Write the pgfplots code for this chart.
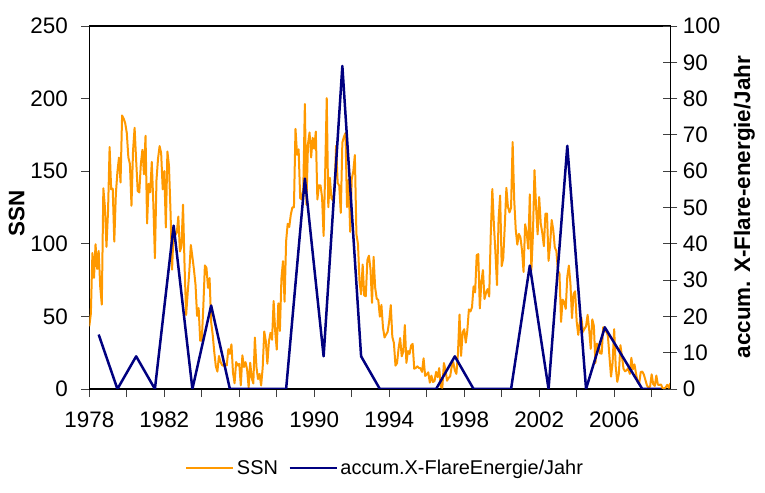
\documentclass[border=0pt]{standalone}
\usepackage{pgfplots}
\pgfplotsset{compat=1.18}
\usepackage{fontspec}
\setmainfont{Liberation Sans}
\definecolor{ssnorange}{HTML}{FF9900}
\definecolor{flarenavy}{HTML}{000080}
\begin{document}
\begin{tikzpicture}[font=\fontsize{22.5}{27}\selectfont]
\useasboundingbox (0bp,0bp) rectangle (765bp,493bp);
\pgfplotsset{
  every axis/.append style={
    scale only axis, width=581.1bp, height=363bp,
    at={(89.3bp,104bp)}, anchor=south west,
    xmin=1978, xmax=2009,
    /pgf/number format/assume math mode=true,
    /pgf/number format/1000 sep={},
    axis line style={line width=1.5bp},
    every tick/.style={black!75, line width=0.8bp},
  }
}
\begin{axis}[
  ymin=0, ymax=250, ytick={0,50,...,250},
  ytick pos=left, xtick pos=bottom,
  tick align=outside,
  xtick={1978,1982,...,2006},
  minor xtick={1980,1984,...,2008},
  major tick length=8bp, minor tick length=8bp,
  ylabel={\bfseries SSN},
  ylabel style={at={(axis description cs:-0.125,0.4835)}, anchor=center},
  yticklabel style={xshift=-10bp},
  xticklabel style={yshift=-11bp},
]
\addplot[ssnorange, line width=2bp, line join=round] table[row sep=\\, x expr=\thisrow{yr}+\thisrow{mo}/12, y=v] {
yr mo v\\
1977 12 43.2\\
1978 1 51.9\\ 1978 2 93.6\\ 1978 3 76.5\\ 1978 4 99.7\\ 1978 5 82.7\\ 1978 6 95.1\\ 1978 7 70.4\\ 1978 8 58.1\\ 1978 9 138.2\\ 1978 10 125.1\\ 1978 11 97.9\\ 1978 12 122.7\\
1979 1 166.6\\ 1979 2 137.5\\ 1979 3 138.0\\ 1979 4 101.5\\ 1979 5 134.4\\ 1979 6 149.5\\ 1979 7 159.4\\ 1979 8 142.2\\ 1979 9 188.4\\ 1979 10 186.2\\ 1979 11 183.0\\ 1979 12 176.3\\
1980 1 159.6\\ 1980 2 155.0\\ 1980 3 126.2\\ 1980 4 164.1\\ 1980 5 179.9\\ 1980 6 157.3\\ 1980 7 136.3\\ 1980 8 135.4\\ 1980 9 155.0\\ 1980 10 164.7\\ 1980 11 147.9\\ 1980 12 174.4\\
1981 1 114.0\\ 1981 2 141.3\\ 1981 3 135.5\\ 1981 4 156.4\\ 1981 5 127.5\\ 1981 6 90.0\\ 1981 7 143.8\\ 1981 8 158.7\\ 1981 9 167.3\\ 1981 10 162.4\\ 1981 11 137.5\\ 1981 12 150.1\\
1982 1 111.2\\ 1982 2 163.6\\ 1982 3 153.8\\ 1982 4 122.0\\ 1982 5 82.2\\ 1982 6 110.4\\ 1982 7 106.1\\ 1982 8 107.6\\ 1982 9 118.8\\ 1982 10 94.7\\ 1982 11 98.1\\ 1982 12 127.0\\
1983 1 84.3\\ 1983 2 51.0\\ 1983 3 66.5\\ 1983 4 80.7\\ 1983 5 99.2\\ 1983 6 91.1\\ 1983 7 82.2\\ 1983 8 71.8\\ 1983 9 50.3\\ 1983 10 55.8\\ 1983 11 33.3\\ 1983 12 33.4\\
1984 1 57.0\\ 1984 2 85.1\\ 1984 3 83.5\\ 1984 4 69.7\\ 1984 5 76.4\\ 1984 6 46.1\\ 1984 7 37.4\\ 1984 8 25.5\\ 1984 9 15.7\\ 1984 10 12.0\\ 1984 11 22.8\\ 1984 12 18.7\\
1985 1 16.5\\ 1985 2 15.9\\ 1985 3 17.2\\ 1985 4 16.2\\ 1985 5 27.5\\ 1985 6 24.2\\ 1985 7 30.7\\ 1985 8 11.1\\ 1985 9 3.9\\ 1985 10 18.6\\ 1985 11 16.2\\ 1985 12 17.3\\
1986 1 2.5\\ 1986 2 23.2\\ 1986 3 15.1\\ 1986 4 18.5\\ 1986 5 13.7\\ 1986 6 1.1\\ 1986 7 18.1\\ 1986 8 7.4\\ 1986 9 3.8\\ 1986 10 35.4\\ 1986 11 15.2\\ 1986 12 6.8\\
1987 1 10.4\\ 1987 2 2.4\\ 1987 3 14.7\\ 1987 4 39.6\\ 1987 5 33.0\\ 1987 6 17.4\\ 1987 7 33.0\\ 1987 8 38.7\\ 1987 9 33.9\\ 1987 10 60.6\\ 1987 11 39.9\\ 1987 12 27.1\\
1988 1 59.0\\ 1988 2 40.0\\ 1988 3 76.2\\ 1988 4 88.0\\ 1988 5 60.1\\ 1988 6 101.8\\ 1988 7 113.8\\ 1988 8 111.6\\ 1988 9 120.1\\ 1988 10 125.1\\ 1988 11 125.1\\ 1988 12 179.2\\
1989 1 161.3\\ 1989 2 165.1\\ 1989 3 131.4\\ 1989 4 130.6\\ 1989 5 138.5\\ 1989 6 196.2\\ 1989 7 126.9\\ 1989 8 168.9\\ 1989 9 176.7\\ 1989 10 159.4\\ 1989 11 173.0\\ 1989 12 165.5\\
1990 1 177.3\\ 1990 2 130.5\\ 1990 3 140.3\\ 1990 4 140.3\\ 1990 5 132.2\\ 1990 6 105.4\\ 1990 7 149.4\\ 1990 8 200.3\\ 1990 9 125.2\\ 1990 10 145.5\\ 1990 11 131.4\\ 1990 12 129.7\\
1991 1 136.9\\ 1991 2 167.5\\ 1991 3 141.9\\ 1991 4 140.0\\ 1991 5 121.3\\ 1991 6 169.7\\ 1991 7 173.7\\ 1991 8 176.3\\ 1991 9 125.3\\ 1991 10 144.1\\ 1991 11 108.2\\ 1991 12 144.4\\
1992 1 150.0\\ 1992 2 161.1\\ 1992 3 106.7\\ 1992 4 99.8\\ 1992 5 73.8\\ 1992 6 65.2\\ 1992 7 85.7\\ 1992 8 64.5\\ 1992 9 63.9\\ 1992 10 88.7\\ 1992 11 91.8\\ 1992 12 82.6\\
1993 1 59.3\\ 1993 2 91.0\\ 1993 3 69.8\\ 1993 4 62.2\\ 1993 5 61.3\\ 1993 6 49.8\\ 1993 7 57.9\\ 1993 8 42.4\\ 1993 9 35.5\\ 1993 10 37.5\\ 1993 11 39.4\\ 1993 12 46.9\\
1994 1 57.8\\ 1994 2 35.8\\ 1994 3 31.7\\ 1994 4 16.1\\ 1994 5 17.8\\ 1994 6 28.0\\ 1994 7 35.1\\ 1994 8 22.5\\ 1994 9 25.7\\ 1994 10 44.0\\ 1994 11 18.0\\ 1994 12 26.2\\
1995 1 24.2\\ 1995 2 29.9\\ 1995 3 31.1\\ 1995 4 14.0\\ 1995 5 14.5\\ 1995 6 15.6\\ 1995 7 14.5\\ 1995 8 14.3\\ 1995 9 11.8\\ 1995 10 21.1\\ 1995 11 9.0\\ 1995 12 10.0\\
1996 1 11.5\\ 1996 2 4.4\\ 1996 3 9.2\\ 1996 4 4.8\\ 1996 5 5.5\\ 1996 6 11.8\\ 1996 7 8.2\\ 1996 8 14.4\\ 1996 9 1.6\\ 1996 10 0.9\\ 1996 11 17.9\\ 1996 12 13.3\\
1997 1 5.7\\ 1997 2 7.6\\ 1997 3 8.7\\ 1997 4 15.5\\ 1997 5 18.5\\ 1997 6 12.7\\ 1997 7 10.4\\ 1997 8 24.4\\ 1997 9 51.3\\ 1997 10 22.8\\ 1997 11 39.0\\ 1997 12 41.2\\
1998 1 31.9\\ 1998 2 40.3\\ 1998 3 54.8\\ 1998 4 53.4\\ 1998 5 56.3\\ 1998 6 70.7\\ 1998 7 66.6\\ 1998 8 92.2\\ 1998 9 92.9\\ 1998 10 55.5\\ 1998 11 74.0\\ 1998 12 81.9\\
1999 1 62.0\\ 1999 2 66.3\\ 1999 3 68.8\\ 1999 4 63.7\\ 1999 5 106.4\\ 1999 6 137.7\\ 1999 7 113.5\\ 1999 8 93.7\\ 1999 9 71.5\\ 1999 10 116.7\\ 1999 11 133.2\\ 1999 12 84.6\\
2000 1 90.1\\ 2000 2 112.9\\ 2000 3 138.5\\ 2000 4 125.5\\ 2000 5 121.6\\ 2000 6 124.9\\ 2000 7 170.1\\ 2000 8 130.5\\ 2000 9 109.7\\ 2000 10 99.4\\ 2000 11 106.8\\ 2000 12 104.4\\
2001 1 95.6\\ 2001 2 80.6\\ 2001 3 113.5\\ 2001 4 107.7\\ 2001 5 96.6\\ 2001 6 134.0\\ 2001 7 81.8\\ 2001 8 106.4\\ 2001 9 150.7\\ 2001 10 125.5\\ 2001 11 106.5\\ 2001 12 132.2\\
2002 1 114.1\\ 2002 2 107.4\\ 2002 3 98.4\\ 2002 4 120.7\\ 2002 5 120.8\\ 2002 6 88.3\\ 2002 7 99.6\\ 2002 8 116.4\\ 2002 9 109.6\\ 2002 10 97.5\\ 2002 11 95.0\\ 2002 12 81.6\\
2003 1 79.5\\ 2003 2 46.2\\ 2003 3 61.5\\ 2003 4 60.0\\ 2003 5 55.2\\ 2003 6 77.4\\ 2003 7 85.0\\ 2003 8 72.7\\ 2003 9 48.8\\ 2003 10 65.5\\ 2003 11 67.3\\ 2003 12 46.5\\
2004 1 37.3\\ 2004 2 45.8\\ 2004 3 49.1\\ 2004 4 39.3\\ 2004 5 41.5\\ 2004 6 43.2\\ 2004 7 51.1\\ 2004 8 40.9\\ 2004 9 27.7\\ 2004 10 48.0\\ 2004 11 43.5\\ 2004 12 17.9\\
2005 1 31.3\\ 2005 2 29.2\\ 2005 3 24.5\\ 2005 4 24.4\\ 2005 5 42.6\\ 2005 6 39.6\\ 2005 7 39.9\\ 2005 8 36.4\\ 2005 9 22.1\\ 2005 10 8.5\\ 2005 11 18.0\\ 2005 12 41.2\\
2006 1 15.3\\ 2006 2 4.9\\ 2006 3 10.6\\ 2006 4 30.2\\ 2006 5 22.3\\ 2006 6 13.9\\ 2006 7 12.2\\ 2006 8 12.9\\ 2006 9 14.4\\ 2006 10 10.4\\ 2006 11 21.5\\ 2006 12 13.6\\
2007 1 16.9\\ 2007 2 10.6\\ 2007 3 4.8\\ 2007 4 3.7\\ 2007 5 11.7\\ 2007 6 12.0\\ 2007 7 10.0\\ 2007 8 6.2\\ 2007 9 2.4\\ 2007 10 0.9\\ 2007 11 1.7\\ 2007 12 10.1\\
2008 1 3.4\\ 2008 2 2.1\\ 2008 3 9.3\\ 2008 4 2.9\\ 2008 5 2.9\\ 2008 6 3.1\\ 2008 7 0.5\\ 2008 8 0.5\\ 2008 9 1.1\\ 2008 10 2.9\\ 2008 11 0.8\\ 2008 12 4.1\\
};
\end{axis}
\begin{axis}[
  axis y line*=right, axis x line=none,
  ymin=0, ymax=100, ytick={0,10,...,100},
  tick align=center, major tick length=14bp,
  yticklabel style={xshift=2bp},
  ylabel={\bfseries accum. X-Flare-energie/Jahr},
  ylabel style={at={(axis description cs:1.1275,0.501)}, anchor=center, rotate=0},
  legend columns=2,
  legend style={draw=none, fill=none, font=\fontsize{20}{24}\selectfont,
    at={(axis description cs:0.5097,-0.2176)}, anchor=center,
    nodes={inner sep=2.5bp},
    /tikz/every even column/.append style={column sep=8bp}},
  legend image code/.code={\draw[#1] (0bp,0bp) -- (47bp,0bp);},
]
\addlegendimage{ssnorange, line width=2bp}
\addlegendentry{SSN}
\addplot[flarenavy, line width=2.5bp, line join=round] coordinates {
(1978.5,15) (1979.5,0) (1980.5,9) (1981.5,0) (1982.5,45) (1983.5,0) (1984.5,23) (1985.5,0)
(1986.5,0) (1987.5,0) (1988.5,0) (1989.5,58) (1990.5,9) (1991.5,89) (1992.5,9) (1993.5,0)
(1994.5,0) (1995.5,0) (1996.5,0) (1997.5,9) (1998.5,0) (1999.5,0) (2000.5,0) (2001.5,34)
(2002.5,0) (2003.5,67) (2004.5,0) (2005.5,17) (2006.5,8.5) (2007.5,0) (2008.5,0)
};
\addlegendentry{accum.X-FlareEnergie/Jahr}
\end{axis}
\end{tikzpicture}
\end{document}
